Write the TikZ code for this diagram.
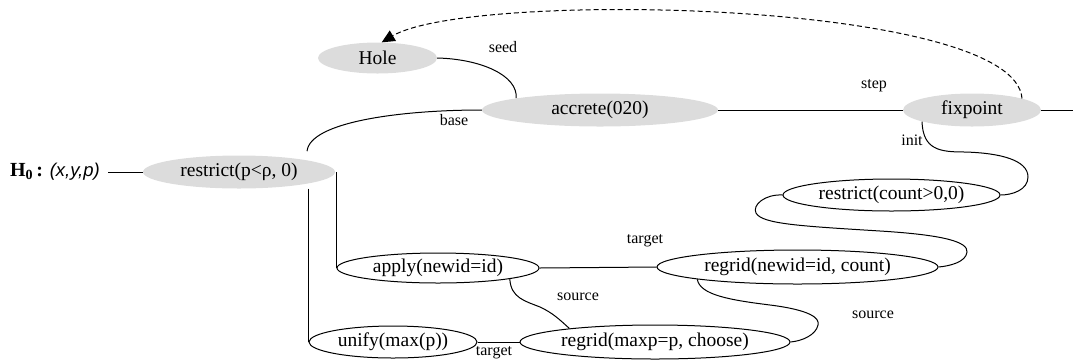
\documentclass[tikz,border=0pt]{standalone}
\usepackage{fontspec}
\setmainfont{Liberation Serif}
\newfontfamily\arialfont{Liberation Sans}
\usetikzlibrary{shapes.geometric,arrows.meta,calc}
\definecolor{nodegray}{HTML}{DCDCDC}
\tikzset{
  gnode/.style={ellipse, fill=nodegray, draw=none, inner sep=0pt, font=\fontsize{19.5}{20}\selectfont},
  wnode/.style={ellipse, draw=black, line width=1pt, fill=white, inner sep=0pt, font=\fontsize{19.5}{20}\selectfont},
  elabel/.style={font=\fontsize{16}{17}\selectfont, inner sep=0pt},
  conn/.style={draw=black, line width=1pt},
}
\begin{document}
\begin{tikzpicture}[x=1pt,y=-1pt]
\useasboundingbox (0,0) rectangle (1073,360);
% nodes
\node[anchor=east, inner sep=0pt] (h0) at (100,172) {\fontsize{20}{20}\selectfont\textbf{H\textsubscript{0}\,:} {\arialfont\itshape\fontsize{18.5}{20}\selectfont(x,y,p)}};
\node[gnode, minimum width=192pt, minimum height=33pt] (restrict) at (239,172) {restrict(p<ρ, 0)};
\node[gnode, minimum width=119pt, minimum height=31pt] (hole) at (377.5,58) {Hole};
\node[gnode, minimum width=236pt, minimum height=33pt] (accrete) at (600,110) {accrete(020)};
\node[gnode, minimum width=138pt, minimum height=33pt] (fixpoint) at (972,110) {fixpoint};
\node[wnode, minimum width=217pt, minimum height=32pt] (rc) at (891.5,195) {restrict(count>0,0)};
\node[wnode, minimum width=202pt, minimum height=30pt] (apply) at (438,268) {apply(newid=id)};
\node[wnode, minimum width=281pt, minimum height=34pt] (rn) at (797.5,267) {regrid(newid=id, count)};
\node[wnode, minimum width=168pt, minimum height=32pt] (unify) at (393,342) {unify(max(p))};
\node[wnode, minimum width=270pt, minimum height=34pt] (rm) at (655,342) {regrid(maxp=p, choose)};
\coordinate (out) at (1073,110);
% connectors
\draw[conn, shorten <=8pt] (h0.east) -- (restrict.west);
\draw[conn] (accrete.west) .. controls (400,110) and (310,122) .. ([yshift=9pt]restrict.north east);
\draw[conn] (hole.east) .. controls (480,59) and (518,75) .. (accrete.172);
\draw[conn] (accrete.east) -- (fixpoint.west);
\draw[conn] (fixpoint.east) -- (out);
\draw[conn, dashed, dash pattern=on 5pt off 3pt, -{Triangle[length=13pt,width=12pt]}] (fixpoint.13) .. controls (1015,0) and (470,-10) .. (hole.75);
\draw[conn] (apply.west |- restrict.east) -- (apply.west);
\draw[conn] (unify.west |- restrict.south) -- (unify.west);
\draw[conn] (fixpoint.193) .. controls (923,150) and (940,152) .. (965,152) .. controls (1000,153) and (1028,160) .. (1028,177) .. controls (1028,190) and (1012,195) .. (rc.east);
\draw[conn] (rc.west) .. controls (765,194) and (752,205) .. (756,213) .. controls (762,224) and (800,226) .. (880,231) .. controls (945,235) and (968,242) .. (967,252) .. controls (966,262) and (950,266) .. (rn.east);
\draw[conn] (apply.east) -- (rn.west);
\draw[conn] (apply.south east) .. controls (511,298) and (525,301) .. (540,307) .. controls (553,313) and (560,320) .. (rm.171);
\draw[conn] (rn.187) .. controls (700,295) and (730,300) .. (770,305) .. controls (810,310) and (820,318) .. (818,325) .. controls (816,335) and (802,341) .. (rm.east);
\draw[conn] (unify.east) -- (rm.west);
% labels
\node[elabel] (lseed) at (503,47) {seed};
\node[elabel] (lbase) at (454,120) {base};
\node[elabel] (lstep) at (874,86) {step};
\node[elabel] (linit) at (912,140) {init};
\node[elabel] (ltarget1) at (645,241) {target};
\node[elabel] (lsource1) at (578,297) {source};
\node[elabel] (ltarget2) at (494,353) {target};
\node[elabel] (lsource2) at (873,315) {source};
\end{tikzpicture}
\end{document}
